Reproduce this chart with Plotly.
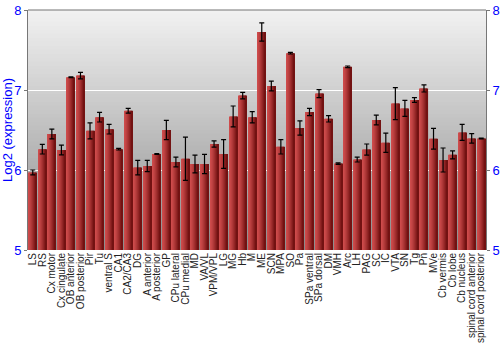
import plotly.graph_objects as go

regions = ["LS", "RS", "Cx motor", "Cx cingulate", "OB anterior", "OB posterior", "Pir", "Tu",
           "ventral S", "CA1", "CA2/CA3", "DG", "A anterior", "A posterior", "GP", "CPu lateral",
           "CPu medial", "MD", "VA/VL", "VPM/VPL", "LG", "MG", "Hb", "M", "ME", "SCN", "MPA", "SO",
           "Pa", "SPa ventral", "SPa dorsal", "DM", "VMH", "Arc", "LH", "PAG", "SC", "IC", "VTA",
           "SN", "Tg", "Pn", "MVe", "Cb vermis", "Cb lobe", "Cb nucleus", "spinal cord anterior",
           "spinal cord posterior"]
expression = [5.97, 6.26, 6.45, 6.25, 7.16, 7.18, 6.49, 6.66,
              6.51, 6.26, 6.74, 6.03, 6.05, 6.20, 6.50, 6.10,
              6.14, 6.075, 6.075, 6.325, 6.20, 6.67, 6.93, 6.66, 7.725, 7.05, 6.29, 7.46,
              6.525, 6.725, 6.955, 6.64, 6.08, 7.29, 6.13, 6.255, 6.625, 6.34, 6.83,
              6.77, 6.875, 7.02, 6.39, 6.125, 6.19, 6.47, 6.395,
              6.395]
error = [0.03, 0.06, 0.06, 0.06, 0.005, 0.04, 0.10, 0.06,
         0.06, 0.01, 0.03, 0.09, 0.07, 0.005, 0.12, 0.06,
         0.27, 0.11, 0.12, 0.04, 0.18, 0.13, 0.04, 0.07, 0.115, 0.06, 0.09, 0.01,
         0.09, 0.045, 0.05, 0.04, 0.01, 0.01, 0.03, 0.07, 0.06, 0.12, 0.20,
         0.10, 0.03, 0.045, 0.13, 0.15, 0.05, 0.10, 0.06,
         0.005]

fig = go.Figure()

# background vertical gradient (style only)
nb = 60
top = (242, 242, 242)
bot = (140, 140, 140)
for i in range(nb):
    t = (i + 0.5) / nb
    c = tuple(int(round(top[k] + (bot[k] - top[k]) * t)) for k in range(3))
    fig.add_shape(type="rect", xref="paper", yref="paper", x0=0, x1=1,
                  y0=1 - (i + 1) / nb, y1=1 - i / nb + 0.001,
                  fillcolor="rgb(%d,%d,%d)" % c, line=dict(width=0), layer="below")

# bars drawn as vertical stripes for horizontal shading
bar_w = 0.84
ns = 8
light = (205, 75, 75)
dark = (115, 18, 18)
for s in range(ns):
    t = s / (ns - 1)
    tt = t ** 1.3
    c = tuple(int(round(light[k] + (dark[k] - light[k]) * tt)) for k in range(3))
    fig.add_trace(go.Bar(
        x=regions, y=expression, base=0,
        width=bar_w / ns + 0.01, offset=-bar_w / 2 + s * bar_w / ns,
        marker=dict(color="rgb(%d,%d,%d)" % c, line=dict(width=0)),
        showlegend=False, hoverinfo="skip"))

fig.add_trace(go.Scatter(
    x=regions, y=expression, mode="markers",
    marker=dict(size=1, color="rgba(0,0,0,0)"),
    error_y=dict(type="data", array=error, visible=True, color="black", thickness=1.2, width=2.5),
    showlegend=False, hoverinfo="skip"))

fig.add_trace(go.Scatter(
    x=regions, y=expression, yaxis="y2", mode="markers",
    marker=dict(size=1, color="rgba(0,0,0,0)"), showlegend=False, hoverinfo="skip"))

fig.update_layout(
    width=500, height=350,
    margin=dict(l=28, r=14, t=10, b=100),
    paper_bgcolor="white", plot_bgcolor="rgba(0,0,0,0)",
    barmode="overlay",
    font=dict(family="Liberation Sans, Arial, sans-serif", size=11, color="black"),
    xaxis=dict(tickangle=-90, tickfont=dict(size=10, color="#222"), showgrid=False,
               tickmode="array", tickvals=regions, ticktext=regions, automargin=False,
               range=[-0.5, len(regions) - 0.5], showline=False, ticks=""),
    yaxis=dict(range=[5, 8], tickvals=[5, 6, 7, 8], showgrid=True, gridcolor="white", gridwidth=1,
               showline=True, linecolor="#777", linewidth=1, mirror=False, automargin=False,
               ticks="outside", ticklen=3, tickcolor="#777",
               tickfont=dict(size=13, color="blue"),
               title=dict(text="Log2 (expression)", font=dict(size=13, color="blue"), standoff=2),
               zeroline=False),
    yaxis2=dict(range=[5, 8], tickvals=[5, 6, 7, 8], overlaying="y", side="right", showgrid=False,
                showline=True, linecolor="#777", linewidth=1, automargin=False,
                ticks="outside", ticklen=3, tickcolor="#777",
                tickfont=dict(size=13, color="blue"), zeroline=False),
)
fig.add_shape(type="line", xref="paper", yref="paper", x0=0, x1=1, y0=1, y1=1,
              line=dict(color="#777", width=1))

fig.write_html("out.html")
